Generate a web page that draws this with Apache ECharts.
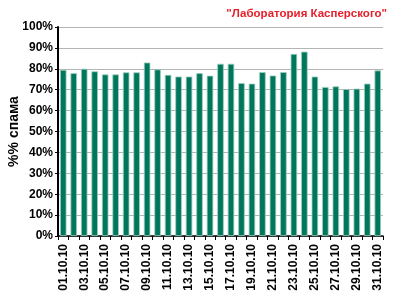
<!DOCTYPE html>
<html><head><meta charset="utf-8">
<script src="https://cdn.jsdelivr.net/npm/echarts@6/dist/echarts.min.js"></script>
<style>html,body{margin:0;padding:0;background:#fff}#c{width:400px;height:300px}</style>
</head><body><div id="c"></div>
<script>
const categories = ["01.10.10","02.10.10","03.10.10","04.10.10","05.10.10","06.10.10","07.10.10","08.10.10","09.10.10","10.10.10","11.10.10","12.10.10","13.10.10","14.10.10","15.10.10","16.10.10","17.10.10","18.10.10","19.10.10","20.10.10","21.10.10","22.10.10","23.10.10","24.10.10","25.10.10","26.10.10","27.10.10","28.10.10","29.10.10","30.10.10","31.10.10"];
const spamShare = [79.5,77.9,80.0,78.8,77.3,77.3,78.3,78.3,83.0,79.7,77.1,76.3,76.3,77.9,76.7,82.4,82.4,73.2,72.9,78.4,76.8,78.4,87.1,88.2,76.3,71.3,71.6,70.3,70.5,72.9,79.2];
const titleText = '"Лаборатория Касперского"';
const yName = '%% спама';
const chart = echarts.init(document.getElementById('c'));
const font = 'Liberation Sans, Arial, sans-serif';
chart.setOption({
  animation: false,
  title: { text: titleText, right: 8, top: 3, textStyle: { color: '#e8202a', fontSize: 11.5, fontWeight: 'bold', fontFamily: font } },
  grid: { left: 58, right: 17, top: 27, bottom: 64, outerBoundsMode: 'none', containLabel: false },
  xAxis: {
    type: 'category', data: categories,
    axisLine: { lineStyle: { color: '#000', width: 1.5 } },
    axisTick: { show: true, alignWithLabel: false, length: 4, lineStyle: { color: '#000' }, interval: 0 },
    axisLabel: { rotate: 90, interval: 1, color: '#000', fontSize: 12, fontWeight: 'bold', fontFamily: font, margin: 8 }
  },
  yAxis: {
    type: 'value', min: 0, max: 100, interval: 10,
    name: yName, nameLocation: 'middle', nameGap: 37, nameRotate: 90, nameMoveOverlap: false,
    nameTextStyle: { color: '#000', fontSize: 14, fontWeight: 'bold', fontFamily: font },
    axisLine: { show: true, lineStyle: { color: '#000', width: 2 } },
    axisTick: { show: true, length: 3, lineStyle: { color: '#000' } },
    axisLabel: { formatter: '{value}%', color: '#000', fontSize: 12, fontWeight: 'bold', fontFamily: font, margin: 5 },
    splitLine: { lineStyle: { color: '#b4b4b4', width: 1 } }
  },
  series: [{
    type: 'bar', data: spamShare, barWidth: 6.5,
    itemStyle: { color: '#00765c', borderColor: '#9ccfbd', borderWidth: 0.8 }
  }]
});
</script></body></html>
